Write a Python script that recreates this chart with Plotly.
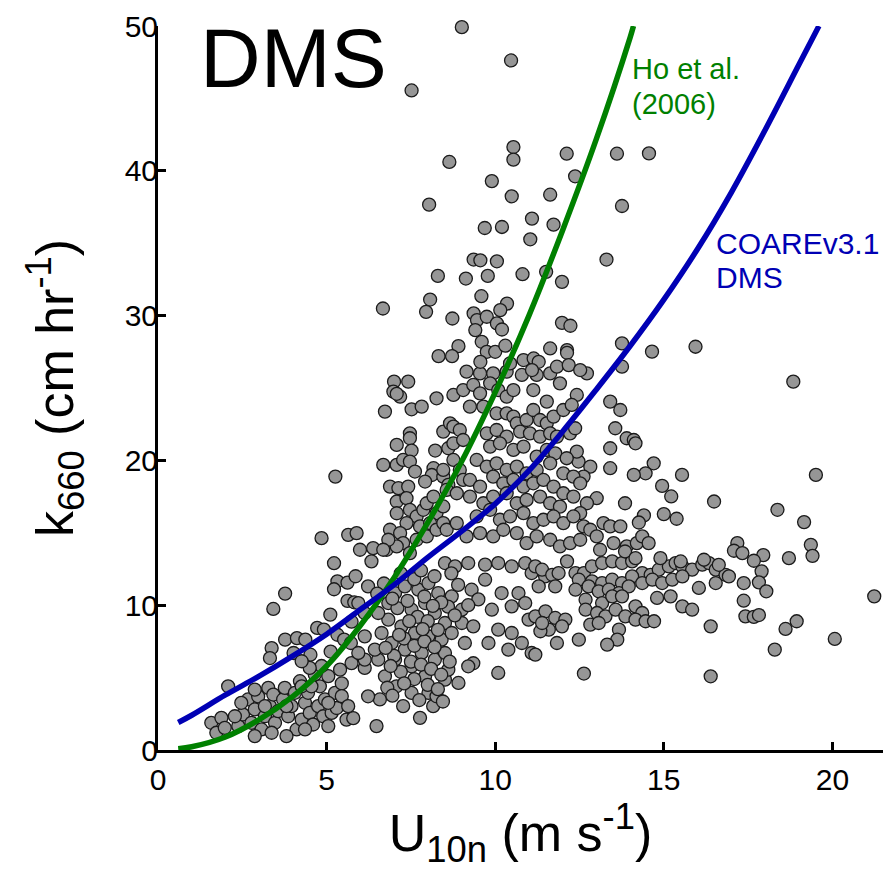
import plotly.graph_objects as go

obs_light_wind = [(5.22,12.9),(5.32,11.65),(5.62,11.56),(5.86,12.0),(5.22,11.1),(3.77,10.8),(3.42,9.74),(5.62,10.3),(5.82,10.2),(5.11,9.35),(4.72,8.43),(4.92,8.31),(5.32,7.96),(5.52,7.62),(5.72,7.39),(3.77,7.62),(4.12,7.73),(4.37,7.62),(3.37,7.04),(3.32,6.35),(4.02,6.7),(4.52,6.58),(5.12,6.8),(2.08,4.4),(1.58,1.88),(1.88,2.22),(1.73,1.19),(1.98,1.53),(2.38,1.65),(2.52,2.45),(2.67,3.49),(2.77,1.88),(2.87,2.8),(2.97,3.7),(3.07,1.42),(3.17,2.33),(3.32,3.03),(3.27,4.29),(3.42,3.83),(3.47,1.88),(3.56,2.68),(3.71,3.49),(3.76,4.29),(3.86,2.33),(3.96,3.03),(4.06,3.95),(4.11,1.42),(4.21,4.75),(4.26,2.1),(4.36,3.26),(4.45,3.95),(4.5,2.56),(4.6,1.76),(4.65,5.2),(4.75,3.03),(4.8,4.4),(4.9,2.33),(4.95,3.49),(5.05,5.1),(5.15,2.56),(5.25,3.95),(5.3,2.9),(5.4,5.55),(5.45,4.6),(5.59,2.1),(5.79,2.2),(5.74,6.0),(4.85,5.8),(4.5,5.67),(4.26,6.13),(2.87,0.96),(3.37,1.19),(3.81,0.96),(4.36,1.42),(5.05,1.65),(3.17,3.03),(4.26,4.4),(3.81,3.03),(4.55,4.4),(5.05,3.26),(5.45,3.72),(5.64,3.03),(2.87,4.17),(2.47,3.26),(2.28,2.33)]

obs_moderate_wind = [(8.51,12.91),(8.81,12.68),(9.2,12.91),(9.7,12.8),(10.09,12.91),(10.49,12.68),(10.89,12.91),(11.48,11.99),(6.23,11.3),(9.01,8.77),(9.35,8.54),(9.1,7.39),(9.8,7.39),(10.09,8.31),(10.39,6.93),(10.49,8.08),(10.79,7.39),(11.08,6.7),(10.99,9.0),(10.69,10.84),(10.89,10.15),(11.08,12.22),(8.71,10.61),(9.01,9.69),(9.3,11.07),(9.7,11.76),(10.19,10.84),(9.9,9.69),(10.49,9.92),(10.09,5.32),(9.35,5.99),(9.2,5.78),(6.48,1.65),(7.77,2.22),(7.27,3.03),(8.16,3.03),(6.58,3.49),(6.23,3.71),(6.13,5.67),(6.73,5.09),(7.07,4.4),(7.52,3.94),(8.02,3.94),(8.26,3.71),(8.51,4.86),(8.91,4.63),(8.61,5.55),(7.92,5.09),(7.52,5.78),(7.03,6.24),(6.53,6.24),(6.13,6.24),(7.03,10.84),(7.32,11.3),(7.72,11.07),(8.02,11.53),(8.31,10.84),(7.52,9.69),(7.92,10.15),(8.21,9.46),(8.51,8.77),(7.22,8.54),(6.83,9.0),(7.62,8.08),(8.02,7.85),(8.41,7.62),(8.71,8.08),(6.93,7.39),(7.32,6.93),(7.82,6.7),(8.21,6.24),(8.51,6.7),(6.63,8.08),(6.43,6.93),(6.13,7.85),(5.94,6.7),(6.83,10.15),(6.53,9.46),(6.13,9.46),(5.94,10.15),(5.74,8.86),(7.1,9.8),(7.4,10.3),(7.7,9.2),(8.0,8.9),(8.3,8.3),(7.3,7.7),(7.6,7.2),(7.9,7.5),(8.2,7.1),(7.0,6.5),(7.5,6.1),(7.8,5.9),(8.1,5.6),(8.4,5.2),(7.2,5.4),(6.9,5.8),(7.6,4.9),(8.0,4.5),(8.3,4.2),(7.3,4.6),(6.8,4.3),(7.9,10.6),(8.6,9.9),(8.8,9.3),(8.4,10.2),(7.6,11.8),(8.2,12.0),(7.8,12.4),(7.2,12.2),(6.7,11.5),(6.5,10.8),(8.9,11.4),(8.7,12.2),(9.5,10.4),(9.2,10.0),(7.45,8.9),(7.85,8.35),(8.15,9.95),(6.95,10.45),(7.75,3.45),(8.45,3.35),(6.95,3.75),(8.65,6.1),(7.15,7.95),(6.75,7.05)]

obs_strong_wind = [(12.13,13.03),(11.19,12.68),(11.39,12.45),(11.69,12.1),(11.88,12.22),(11.78,11.3),(11.29,11.3),(12.38,12.22),(12.63,12.22),(12.87,12.68),(13.17,12.91),(13.47,13.03),(13.76,12.91),(14.06,13.03),(14.36,12.22),(14.61,12.1),(14.85,12.45),(15.15,12.68),(15.35,12.91),(15.55,12.68),(15.84,12.45),(16.14,12.8),(16.34,12.91),(16.54,12.45),(16.83,12.1),(12.48,11.76),(12.87,11.65),(13.17,11.53),(13.47,11.76),(13.76,11.53),(14.06,11.99),(12.38,11.07),(12.77,11.3),(13.07,10.96),(13.37,11.07),(13.67,10.84),(13.96,11.3),(14.36,11.53),(14.66,11.76),(14.95,11.53),(15.25,11.76),(15.55,11.99),(16.04,11.19),(16.54,11.53),(12.68,10.38),(13.17,10.15),(13.47,10.61),(13.76,10.61),(14.8,10.5),(15.2,10.61),(15.55,9.92),(15.84,9.69),(12.68,9.69),(13.02,9.46),(13.27,9.23),(13.57,9.69),(13.86,9.23),(14.16,9.92),(14.36,9.46),(14.16,9.0),(14.46,8.89),(14.71,8.89),(12.82,8.66),(13.07,8.77),(13.67,8.31),(13.62,7.62),(13.32,7.28),(12.48,7.62),(11.83,7.39),(11.19,6.59),(11.19,9.23),(11.49,9.58),(11.78,9.12),(12.08,9.0),(11.98,8.54),(11.59,8.31),(11.34,8.2),(11.39,8.77),(16.39,8.54),(12.63,5.28),(16.39,5.09)]

obs_gale = [(16.93,11.99),(17.9,12.34),(17.37,11.53),(17.82,11.58),(18.04,10.96),(17.37,10.31),(17.42,9.23),(17.67,9.19),(17.82,9.32),(18.94,8.89),(18.61,8.36),(18.29,6.93),(20.07,7.67),(21.24,10.61)]

obs_rising = [(7.0,25.44),(7.42,25.44),(6.98,24.75),(7.18,24.4),(7.08,24.6),(6.73,23.37),(7.52,23.53),(7.82,23.71),(8.26,24.29),(8.46,21.99),(8.66,22.56),(7.47,21.87),(7.47,21.53),(7.08,21.07),(7.52,20.68),(8.22,20.68),(8.61,20.84),(6.68,19.69),(7.08,19.69),(7.27,20.03),(7.47,19.92),(7.62,19.23),(8.17,19.46),(8.12,18.99),(7.92,18.54),(8.46,18.88),(8.61,18.31),(5.26,18.88),(6.88,18.19),(7.13,18.08),(7.42,18.19),(7.08,17.16),(7.37,17.39),(7.08,16.35),(7.47,16.59),(7.67,16.13),(7.87,16.59),(7.97,17.04),(8.17,17.5),(8.26,16.36),(8.46,16.82),(7.37,15.67),(7.77,15.44),(8.07,15.67),(6.88,15.21),(7.18,14.98),(7.27,14.29),(7.67,14.52),(7.97,14.75),(8.26,15.21),(8.46,15.67),(6.78,13.83),(7.08,14.06),(7.47,13.6),(4.85,14.63),(5.64,14.86),(5.89,14.98),(5.99,13.83),(6.38,13.94),(6.33,13.03),(6.83,14.52),(6.68,13.83)]

obs_core = [(9.15,26.13),(9.55,26.01),(9.94,26.01),(10.34,26.13),(10.79,25.9),(11.23,25.9),(11.63,26.01),(12.72,26.01),(8.76,24.52),(9.05,24.86),(9.35,25.21),(9.55,24.63),(9.85,25.32),(10.09,24.86),(10.34,24.4),(10.54,24.86),(11.13,24.86),(11.53,24.06),(11.92,25.32),(12.42,24.52),(13.41,24.06),(13.71,23.48),(13.56,22.22),(13.9,21.53),(13.41,20.84),(13.85,17.04),(12.47,19.92),(12.82,19.57),(12.62,18.88),(13.41,19.46),(13.01,17.39),(8.76,22.33),(8.95,22.1),(8.76,21.18),(9.05,21.41),(8.76,20.03),(8.46,19.34),(8.95,19.34),(9.05,18.65),(8.56,17.96),(8.86,17.73),(9.25,23.71),(9.65,23.71),(10.04,23.25),(10.34,23.25),(10.54,23.02),(10.64,22.56),(10.93,22.79),(11.13,23.48),(11.33,22.79),(11.53,22.56),(11.73,23.02),(12.02,23.48),(12.27,23.83),(9.75,21.87),(10.04,22.1),(10.34,21.64),(10.74,21.99),(11.03,21.87),(11.33,21.64),(11.63,21.87),(11.83,21.64),(12.22,21.87),(12.37,22.22),(12.42,20.61),(9.85,20.95),(10.14,21.18),(10.54,20.72),(10.84,20.95),(11.23,20.26),(11.53,20.72),(11.78,20.49),(12.12,20.15),(9.45,20.03),(9.75,19.57),(10.04,19.8),(10.34,19.34),(10.64,19.57),(10.93,19.11),(11.23,19.34),(11.63,19.8),(12.02,19.11),(12.32,18.88),(12.52,18.42),(9.25,18.65),(9.55,18.19),(9.94,18.88),(10.24,18.42),(10.54,18.65),(10.84,18.19),(11.13,18.42),(11.43,18.65),(11.73,18.19),(12.02,17.73),(12.32,17.5),(12.72,17.04),(12.52,16.36),(9.25,17.5),(9.65,17.04),(9.94,17.5),(10.34,17.73),(10.64,17.04),(10.93,17.27),(11.33,17.5),(11.63,17.04),(11.92,16.81),(9.45,16.13),(9.85,16.59),(10.14,15.9),(10.44,16.13),(10.84,16.36),(11.13,15.67),(11.43,15.9),(11.73,16.13),(12.02,15.67),(12.32,16.13),(12.62,15.44),(12.82,15.21),(9.55,14.98),(9.94,14.75),(10.24,15.21),(10.64,14.98),(10.93,14.29),(11.23,14.75),(11.63,14.52),(11.92,14.06),(12.22,14.29),(12.52,14.52),(13.01,14.75),(13.21,15.67),(13.41,15.44),(13.71,15.44),(13.51,14.29),(13.11,13.83),(13.9,14.06),(14.2,14.29),(13.85,13.71),(8.56,15.21),(8.86,15.67),(9.15,14.75)]

obs_high_wind = [(14.65,27.51),(15.94,27.85),(18.84,25.44),(14.11,21.41),(14.16,21.18),(14.7,19.8),(14.46,19.11),(14.11,19.0),(15.54,19.0),(19.51,19.0),(14.95,18.24),(15.22,17.51),(16.49,17.16),(18.37,16.59),(19.16,15.74),(15.0,16.29),(15.38,15.97),(14.41,16.2),(14.26,15.71),(14.36,14.75),(14.55,14.29),(19.36,14.17),(19.41,13.41),(17.18,14.29),(17.08,13.76),(17.33,13.6),(17.95,13.46),(17.67,13.07),(18.71,13.25),(14.9,13.25),(15.5,13.02),(16.19,13.14),(16.63,12.79),(14.16,13.25)]

obs_upper = [(9.9,39.29),(8.04,37.66),(9.69,36.05),(10.2,36.12),(9.36,33.87),(9.56,33.82),(10.05,33.75),(8.3,32.74),(9.13,32.56),(9.78,32.74),(9.59,31.34),(8.07,31.11),(7.95,30.26),(6.67,30.49),(8.73,29.8),(9.36,30.15),(9.46,29.69),(9.75,29.92),(10.05,29.46),(9.41,29.0),(9.6,28.19),(9.75,27.5),(10.0,27.5),(8.91,27.89),(8.72,27.2),(8.32,27.2),(9.56,26.81),(12.37,39.62),(10.49,38.24),(11.63,38.35),(13.76,37.57),(11.09,36.7),(11.73,36.28),(11.04,35.27),(13.3,33.87),(10.81,32.86),(11.51,33.02),(11.98,32.33),(10.35,30.83),(10.15,30.38),(10.2,29.04),(11.98,29.5),(12.23,29.3),(13.76,28.08),(11.63,27.73),(12.13,27.62),(12.13,27.43),(10.3,27.92),(10.44,26.7),(10.84,26.93),(11.14,27.04),(11.29,26.81),(11.83,26.47),(12.18,26.58),(12.52,26.24),(11.09,26.24),(13.76,26.47)]

obs_extreme = [(9.01,49.92),(10.47,47.62),(7.52,45.55),(10.54,41.64),(10.54,40.77),(8.64,40.61),(12.12,41.18),(13.61,41.18),(14.56,41.2)]

# ---- parameterisation curves ----
ho_u = [0.6, 1, 2, 3, 4, 5, 6, 7, 8, 9, 10, 11, 12, 13, 14, 14.1]
ho_k = [0.08, 0.22, 0.9, 2.1, 3.7, 5.8, 8.6, 11.9, 15.7, 19.9, 24.7, 30.0, 35.9, 42.2, 49.2, 50.0]

coare_u = [0.6, 1, 2, 3, 4, 5, 6, 7, 8, 9, 10, 11, 12, 13, 14, 15, 16, 17, 18, 19, 19.6]
coare_k = [1.9, 2.4, 3.8, 5.1, 6.5, 8.0, 9.7, 11.4, 13.3, 15.1, 17.0, 19.3, 22.0, 24.9, 27.9, 31.1, 34.6, 38.5, 42.8, 47.3, 50.0]

x_ticks = [0, 5, 10, 15, 20]
y_ticks = [0, 10, 20, 30, 40, 50]

all_obs = (obs_light_wind + obs_moderate_wind + obs_strong_wind + obs_gale +
           obs_rising + obs_core + obs_high_wind + obs_upper + obs_extreme)
u_obs = [p[0] for p in all_obs]
k_obs = [p[1] for p in all_obs]

FONT = "Arial, Liberation Sans, sans-serif"

fig = go.Figure()
fig.add_trace(go.Scatter(
    x=u_obs, y=k_obs, mode="markers", cliponaxis=False, showlegend=False,
    marker=dict(size=13, color="#969696", line=dict(color="#1a1a1a", width=1.3)),
))
fig.add_trace(go.Scatter(
    x=ho_u, y=ho_k, mode="lines", showlegend=False,
    line=dict(color="#008000", width=5.5, shape="spline"),
))
fig.add_trace(go.Scatter(
    x=coare_u, y=coare_k, mode="lines", showlegend=False,
    line=dict(color="#0000b4", width=5.5, shape="spline"),
))

axis_common = dict(
    showgrid=False, zeroline=False, showline=True, linecolor="black", linewidth=3,
    ticks="inside", ticklen=8, tickwidth=2.5, tickcolor="black",
    tickfont=dict(family=FONT, size=30, color="black"), mirror=False,
)

fig.update_layout(
    width=891, height=886,
    margin=dict(l=150, r=16, t=18, b=144, autoexpand=False),
    paper_bgcolor="white", plot_bgcolor="white",
    font=dict(family=FONT, color="black"),
    xaxis=dict(range=[0, 21.5], tickvals=x_ticks, ticklabelstandoff=1,
               title=dict(text="U<sub>10n</sub> (m s<sup>-1</sup>)",
                          font=dict(family=FONT, size=52), standoff=18),
               **axis_common),
    yaxis=dict(range=[0, 50], tickvals=y_ticks, ticklabelstandoff=-9,
               title=dict(text="k<sub>660</sub> (cm hr<sup>-1</sup>)",
                          font=dict(family=FONT, size=52), standoff=35),
               **axis_common),
    annotations=[
        dict(text="DMS", x=1.2, y=47.8, xref="x", yref="y", xanchor="left", yanchor="middle",
             showarrow=False, font=dict(family=FONT, size=84, color="black")),
        dict(text="Ho et al.", x=14.0, y=47.0, xref="x", yref="y", xanchor="left", yanchor="middle",
             showarrow=False, font=dict(family=FONT, size=29, color="#008000")),
        dict(text="(2006)", x=14.0, y=44.6, xref="x", yref="y", xanchor="left", yanchor="middle",
             showarrow=False, font=dict(family=FONT, size=29, color="#008000")),
        dict(text="COAREv3.1", x=16.5, y=35.0, xref="x", yref="y", xanchor="left", yanchor="middle",
             showarrow=False, font=dict(family=FONT, size=30, color="#0000b4")),
        dict(text="DMS", x=16.5, y=32.6, xref="x", yref="y", xanchor="left", yanchor="middle",
             showarrow=False, font=dict(family=FONT, size=30, color="#0000b4")),
    ],
)

fig.write_html("out.html")
